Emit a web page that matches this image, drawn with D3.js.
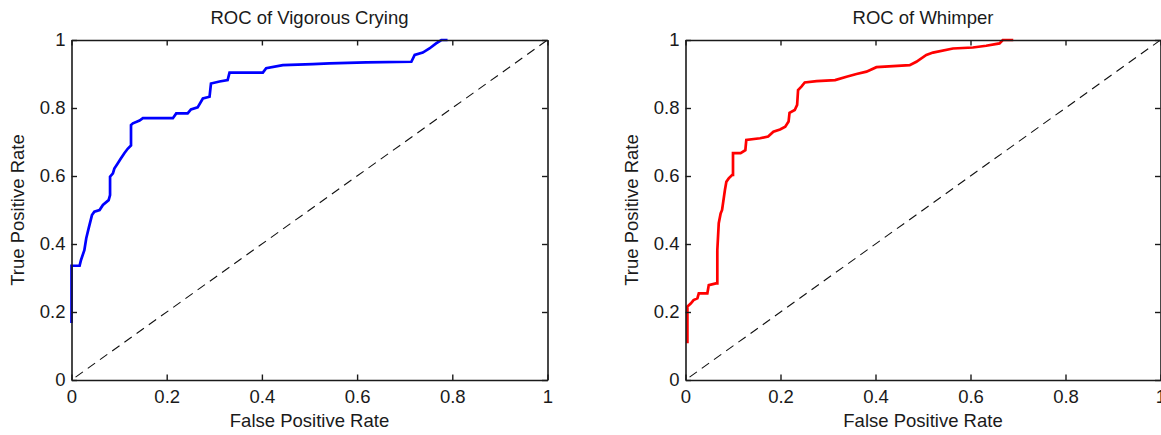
<!DOCTYPE html>
<html>
<head>
<meta charset="utf-8">
<script src="https://cdn.jsdelivr.net/npm/d3@7"></script>
<style>
  html, body { margin: 0; padding: 0; background: #fff; }
  svg { display: block; }
  text { font-family: "Liberation Sans", Arial, Helvetica, sans-serif; fill: #1a1a1a; }
</style>
</head>
<body>
<svg id="chart" width="1161" height="435"></svg>
<script>
// ---- data ----
const titles = ["ROC of Vigorous Crying", "ROC of Whimper"];
const xAxisLabel = "False Positive Rate";
const yAxisLabel = "True Positive Rate";
const tickValues = [0, 0.2, 0.4, 0.6, 0.8, 1];
const tickLabels = ["0", "0.2", "0.4", "0.6", "0.8", "1"];
const seriesColors = ["#0000ff", "#ff0000"];

const vigorousFPR = [0.0, 0.0, 0.017, 0.02, 0.027, 0.031, 0.036, 0.043, 0.048, 0.059, 0.066, 0.078, 0.081, 0.081, 0.087, 0.09, 0.097, 0.104, 0.111, 0.118, 0.125, 0.125, 0.129, 0.143, 0.15, 0.213, 0.22, 0.244, 0.251, 0.265, 0.276, 0.29, 0.293, 0.311, 0.328, 0.332, 0.402, 0.409, 0.444, 0.507, 0.542, 0.619, 0.714, 0.721, 0.738, 0.752, 0.766, 0.777, 0.79];
const vigorousTPR = [0.168, 0.336, 0.336, 0.353, 0.382, 0.417, 0.446, 0.485, 0.495, 0.5, 0.515, 0.529, 0.544, 0.598, 0.608, 0.622, 0.637, 0.652, 0.667, 0.68, 0.69, 0.75, 0.755, 0.763, 0.77, 0.77, 0.784, 0.784, 0.796, 0.802, 0.828, 0.833, 0.872, 0.878, 0.882, 0.904, 0.904, 0.917, 0.926, 0.929, 0.931, 0.934, 0.936, 0.956, 0.963, 0.975, 0.99, 1.0, 1.0];

const whimperFPR = [0.004, 0.004, 0.011, 0.017, 0.025, 0.028, 0.046, 0.049, 0.064, 0.067, 0.067, 0.07, 0.074, 0.077, 0.083, 0.086, 0.091, 0.098, 0.1, 0.1, 0.116, 0.126, 0.128, 0.157, 0.174, 0.185, 0.199, 0.21, 0.217, 0.219, 0.23, 0.235, 0.237, 0.244, 0.251, 0.276, 0.315, 0.339, 0.36, 0.381, 0.402, 0.472, 0.486, 0.507, 0.521, 0.563, 0.605, 0.633, 0.661, 0.668, 0.69];
const whimperTPR = [0.108, 0.216, 0.225, 0.235, 0.24, 0.255, 0.255, 0.279, 0.284, 0.284, 0.382, 0.461, 0.49, 0.5, 0.559, 0.583, 0.593, 0.603, 0.603, 0.667, 0.667, 0.676, 0.706, 0.711, 0.716, 0.73, 0.737, 0.745, 0.76, 0.786, 0.794, 0.809, 0.853, 0.863, 0.875, 0.879, 0.882, 0.892, 0.9, 0.907, 0.92, 0.926, 0.936, 0.956, 0.963, 0.975, 0.978, 0.983, 0.99, 1.0, 1.0];

const chanceFPR = [0, 1];
const chanceTPR = [0, 1];

// ---- layout ----
const panels = [
  { left: 71.5, right: 547.5, fpr: vigorousFPR, tpr: vigorousTPR },
  { left: 685.5, right: 1160.5, fpr: whimperFPR, tpr: whimperTPR }
];
const plotTop = 40, plotBottom = 380;
const svg = d3.select("#chart");
const FS = 18.5;

panels.forEach((p, i) => {
  const x = d3.scaleLinear().domain([0, 1]).range([p.left, p.right]);
  const y = d3.scaleLinear().domain([0, 1]).range([plotBottom, plotTop]);
  const g = svg.append("g");

  // chance diagonal
  const line = d3.line().x(d => x(d[0])).y(d => y(d[1]));
  g.append("path")
    .datum(chanceFPR.map((v, k) => [v, chanceTPR[k]]))
    .attr("d", line)
    .attr("fill", "none")
    .attr("stroke", "#111")
    .attr("stroke-width", 1.1)
    .attr("stroke-dasharray", "9,6")
    .attr("stroke-dashoffset", -5);

  // ROC curve
  g.append("path")
    .datum(p.fpr.map((v, k) => [v, p.tpr[k]]))
    .attr("d", line)
    .attr("fill", "none")
    .attr("stroke", seriesColors[i])
    .attr("stroke-width", 2.7)
    .attr("stroke-linejoin", "miter");

  const fmt = (d) => tickLabels[tickValues.indexOf(d)];
  const styleAxis = (sel) => {
    sel.attr("font-family", null).attr("font-size", null);
    sel.selectAll(".domain").attr("stroke", "#1a1a1a").attr("stroke-width", 1.6);
    sel.selectAll(".tick line").attr("stroke", "#1a1a1a").attr("stroke-width", 1.4);
    sel.selectAll("text").attr("font-size", FS).attr("fill", "#1a1a1a");
  };

  // bottom axis
  g.append("g").attr("transform", `translate(0,${plotBottom})`)
    .call(d3.axisBottom(x).tickValues(tickValues).tickFormat(fmt).tickSizeInner(-5.5).tickSizeOuter(0).tickPadding(10))
    .call(styleAxis);
  // top axis
  g.append("g").attr("transform", `translate(0,${plotTop})`)
    .call(d3.axisTop(x).tickValues(tickValues).tickFormat("").tickSizeInner(-5.5).tickSizeOuter(0))
    .call(styleAxis);
  // left axis
  g.append("g").attr("transform", `translate(${p.left},0)`)
    .call(d3.axisLeft(y).tickValues(tickValues).tickFormat(fmt).tickSizeInner(-5.5).tickSizeOuter(0).tickPadding(6))
    .call(styleAxis);
  // right axis
  g.append("g").attr("transform", `translate(${p.right},0)`)
    .call(d3.axisRight(y).tickValues(tickValues).tickFormat("").tickSizeInner(-5.5).tickSizeOuter(0))
    .call(styleAxis);

  // title
  g.append("text")
    .attr("x", (p.left + p.right) / 2)
    .attr("y", 24)
    .attr("text-anchor", "middle")
    .attr("font-size", FS)
    .text(titles[i]);

  // x label
  g.append("text")
    .attr("x", (p.left + p.right) / 2)
    .attr("y", 427)
    .attr("text-anchor", "middle")
    .attr("font-size", FS)
    .text(xAxisLabel);

  // y label
  const yl = p.left - 47.5;
  g.append("text")
    .attr("transform", `translate(${yl},${(plotTop + plotBottom) / 2}) rotate(-90)`)
    .attr("text-anchor", "middle")
    .attr("font-size", FS)
    .text(yAxisLabel);
});
</script>
</body>
</html>
